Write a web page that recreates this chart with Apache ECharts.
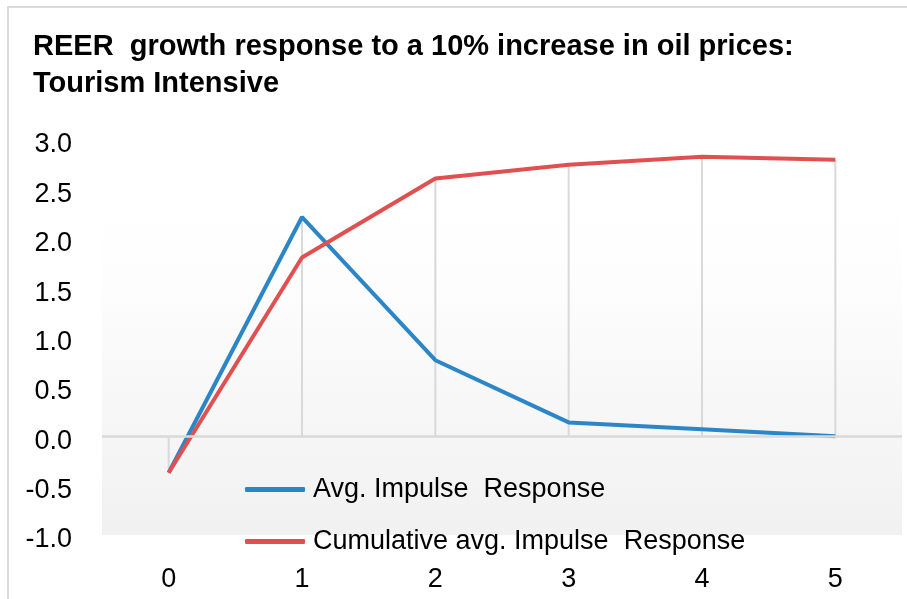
<!DOCTYPE html>
<html>
<head>
<meta charset="utf-8">
<title>REER growth response</title>
<script src="https://cdn.jsdelivr.net/npm/echarts@6/dist/echarts.min.js"></script>
<style>
  html, body { margin: 0; padding: 0; background: #fff; }
  #chart { width: 907px; height: 599px; }
</style>
</head>
<body>
<div id="chart"></div>
<script>
// Horizon (periods after the shock)
const categories = ['0', '1', '2', '3', '4', '5'];
// Average impulse response of REER growth
const avgImpulse = [-0.37, 2.22, 0.77, 0.14, 0.07, 0.0];
// Cumulative average impulse response
const cumImpulse = [-0.37, 1.81, 2.61, 2.75, 2.83, 2.80];
// Value-axis ticks
const yTicks = { min: -1, max: 3, step: 0.5 };

const seriesNames = ['Avg. Impulse  Response', 'Cumulative avg. Impulse  Response'];

// Drop lines reach from zero to the farthest point at each horizon
const dropLine = categories.map((_, i) =>
  Math.abs(avgImpulse[i]) > Math.abs(cumImpulse[i]) ? avgImpulse[i] : cumImpulse[i]
);

const FONT = "'Liberation Sans', Arial, sans-serif";
const chart = echarts.init(document.getElementById('chart'));

chart.setOption({
  animation: false,
  backgroundColor: '#ffffff',
  textStyle: { fontFamily: FONT },
  graphic: [{
    type: 'rect',
    shape: { x: 8, y: 7, width: 920, height: 620 },
    style: { fill: 'none', stroke: '#d9d9d9', lineWidth: 2 },
    silent: true
  }],
  title: {
    text: 'REER  growth response to a 10% increase in oil prices:\nTourism Intensive',
    left: 33,
    top: 28,
    padding: 0,
    textStyle: {
      fontFamily: FONT,
      fontSize: 29,
      fontWeight: 'bold',
      color: '#000',
      lineHeight: 37
    }
  },
  grid: {
    left: 102,
    right: 5,
    top: 140,
    bottom: 64,
    show: true,
    borderWidth: 0,
    backgroundColor: {
      type: 'linear', x: 0, y: 0, x2: 0, y2: 1,
      colorStops: [
        { offset: 0, color: '#ffffff' },
        { offset: 0.3, color: '#fefefe' },
        { offset: 1, color: '#f1f1f1' }
      ]
    }
  },
  legend: {
    orient: 'vertical',
    left: 240,
    top: 471,
    icon: 'roundRect',
    itemWidth: 60,
    itemHeight: 5,
    itemGap: 25,
    data: seriesNames,
    textStyle: { fontFamily: FONT, fontSize: 27, color: '#000', lineHeight: 26, padding: [0, 0, 0, 3] }
  },
  xAxis: {
    type: 'category',
    data: categories,
    boundaryGap: true,
    axisLine: { show: false, onZero: false },
    axisTick: { show: false },
    axisLabel: { fontFamily: FONT, fontSize: 27, color: '#000', margin: 31 },
    splitLine: { show: false }
  },
  yAxis: {
    type: 'value',
    min: yTicks.min,
    max: yTicks.max,
    interval: yTicks.step,
    axisLine: { show: false },
    axisTick: { show: false },
    splitLine: { show: false },
    axisLabel: {
      color: '#000',
      margin: 30,
      formatter: v => '{t|' + v.toFixed(1) + '}',
      rich: {
        t: { fontFamily: FONT, fontSize: 27, color: '#000', padding: [10, 0, 0, 0] }
      }
    }
  },
  series: [
    {
      name: 'drops',
      type: 'bar',
      data: dropLine,
      barWidth: 2,
      itemStyle: { color: '#d9d9d9' },
      silent: true,
      z: 1,
      markLine: {
        silent: true,
        symbol: 'none',
        label: { show: false },
        lineStyle: { color: '#d9d9d9', width: 2.5, type: 'solid' },
        data: [{ yAxis: 0 }]
      }
    },
    {
      name: seriesNames[0],
      type: 'line',
      data: avgImpulse,
      symbol: 'none',
      z: 3,
      lineStyle: { color: '#2b86c7', width: 4 },
      itemStyle: { color: '#2b86c7' }
    },
    {
      name: seriesNames[1],
      type: 'line',
      data: cumImpulse,
      symbol: 'none',
      z: 3,
      lineStyle: { color: '#e05050', width: 4 },
      itemStyle: { color: '#e05050' }
    }
  ]
});
</script>
</body>
</html>
